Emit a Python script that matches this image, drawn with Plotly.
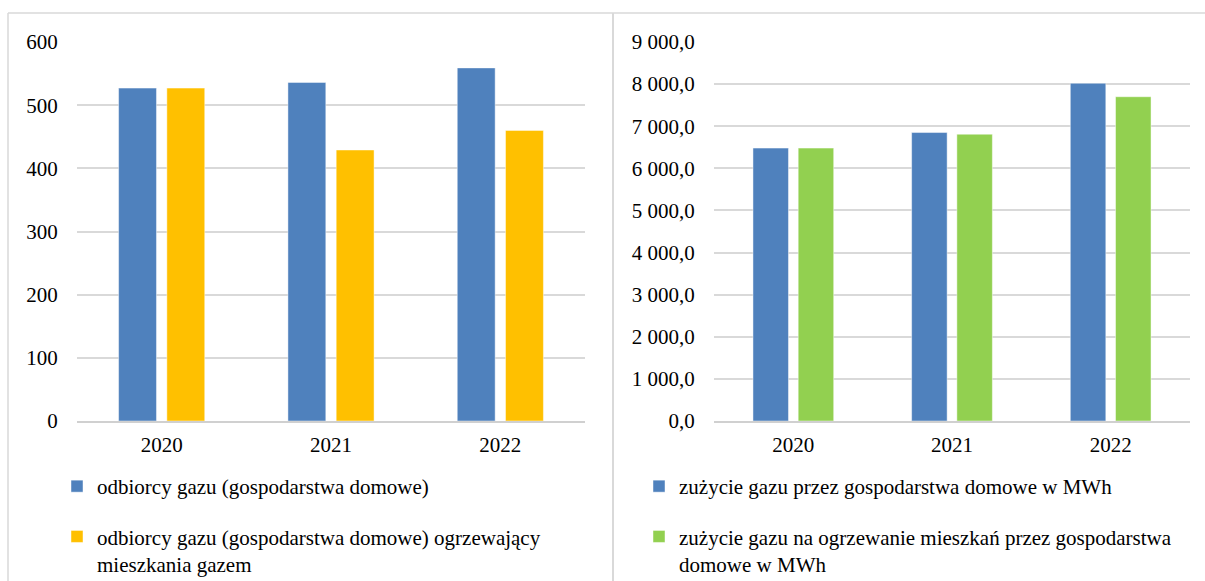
import plotly.graph_objects as go

W, H = 1205, 581

years = ["2020", "2021", "2022"]

# left chart: number of gas customers (households)
odbiorcy = [527, 536, 559]
odbiorcy_ogrz = [527, 429, 460]

# right chart: gas consumption in MWh
zuzycie = [6480, 6850, 8020]
zuzycie_ogrz = [6480, 6810, 7700]

left_ticks = [0, 100, 200, 300, 400, 500, 600]
right_ticks = [0, 1000, 2000, 3000, 4000, 5000, 6000, 7000, 8000, 9000]

names_left = [
    "odbiorcy gazu (gospodarstwa domowe)",
    "odbiorcy gazu (gospodarstwa domowe) ogrzewający<br>mieszkania gazem",
]
names_right = [
    "zużycie gazu przez gospodarstwa domowe w MWh",
    "zużycie gazu na ogrzewanie mieszkań przez gospodarstwa<br>domowe w MWh",
]

BLUE = "#4f81bd"
YELLOW = "#ffc000"
GREEN = "#92d050"
FONT = "Liberation Serif"
FS = 21

fig = go.Figure()
edge = dict(color="rgba(255,255,255,0.45)", width=1)

fig.add_trace(go.Bar(x=years, y=odbiorcy, name=names_left[0], marker=dict(color=BLUE, line=edge),
                     xaxis="x", yaxis="y", legend="legend", legendgroup="a"))
fig.add_trace(go.Bar(x=years, y=odbiorcy_ogrz, name=names_left[1], marker=dict(color=YELLOW, line=edge),
                     xaxis="x", yaxis="y", legend="legend", legendgroup="b"))
fig.add_trace(go.Bar(x=years, y=zuzycie, name=names_right[0], marker=dict(color=BLUE, line=edge),
                     xaxis="x2", yaxis="y2", legend="legend2", legendgroup="c"))
fig.add_trace(go.Bar(x=years, y=zuzycie_ogrz, name=names_right[1], marker=dict(color=GREEN, line=edge),
                     xaxis="x2", yaxis="y2", legend="legend2", legendgroup="d"))

ydom = [(H - 421) / H, (H - 42) / H]
grid = dict(showgrid=True, gridcolor="#d9d9d9", gridwidth=1.5, zeroline=False,
            ticks="outside", ticklen=14, tickcolor="rgba(0,0,0,0)",
            tickfont=dict(family=FONT, size=FS, color="black"), fixedrange=True)
xcommon = dict(showgrid=False, zeroline=False, showline=True, linecolor="#d0d0d0", linewidth=2,
               ticks="outside", ticklen=4, tickcolor="rgba(0,0,0,0)",
               tickfont=dict(family=FONT, size=FS, color="black"), fixedrange=True)

legcommon = dict(font=dict(family=FONT, size=FS, color="black"), bgcolor="rgba(0,0,0,0)",
                 orientation="v", xanchor="left", yanchor="top", tracegroupgap=20,
                 valign="top", itemwidth=30, traceorder="grouped")

fig.update_layout(
    width=W, height=H, autosize=False,
    margin=dict(l=0, r=0, t=0, b=0, autoexpand=False),
    paper_bgcolor="white", plot_bgcolor="white",
    separators=", ",
    barmode="group", bargap=0.43, bargroupgap=0.215,
    font=dict(family=FONT, size=FS, color="black"),
    xaxis=dict(domain=[77 / W, 585 / W], anchor="y", **xcommon),
    yaxis=dict(domain=ydom, anchor="x", range=[0, 600], tickvals=left_ticks,
               tickformat="d", **grid),
    xaxis2=dict(domain=[714 / W, 1190 / W], anchor="y2", **xcommon),
    yaxis2=dict(domain=ydom, anchor="x2", range=[0, 9000], tickvals=right_ticks,
                tickformat=",.1f", **grid),
    legend=dict(x=57 / W, y=(H - 466) / H, **legcommon),
    legend2=dict(x=639 / W, y=(H - 466) / H, **legcommon),
    shapes=[
        dict(type="line", xref="paper", yref="paper", x0=8 / W, x1=8 / W, y0=0, y1=(H - 13) / H,
             line=dict(color="#d9d9d9", width=1.5)),
        dict(type="line", xref="paper", yref="paper", x0=8 / W, x1=1, y0=(H - 13) / H, y1=(H - 13) / H,
             line=dict(color="#d9d9d9", width=1.5)),
        dict(type="line", xref="paper", yref="paper", x0=613 / W, x1=613 / W, y0=0, y1=(H - 13) / H,
             line=dict(color="#d9d9d9", width=2)),
    ],
)

fig.write_html("out.html", config={"displayModeBar": False},
               post_script="document.body.style.margin='0';")
